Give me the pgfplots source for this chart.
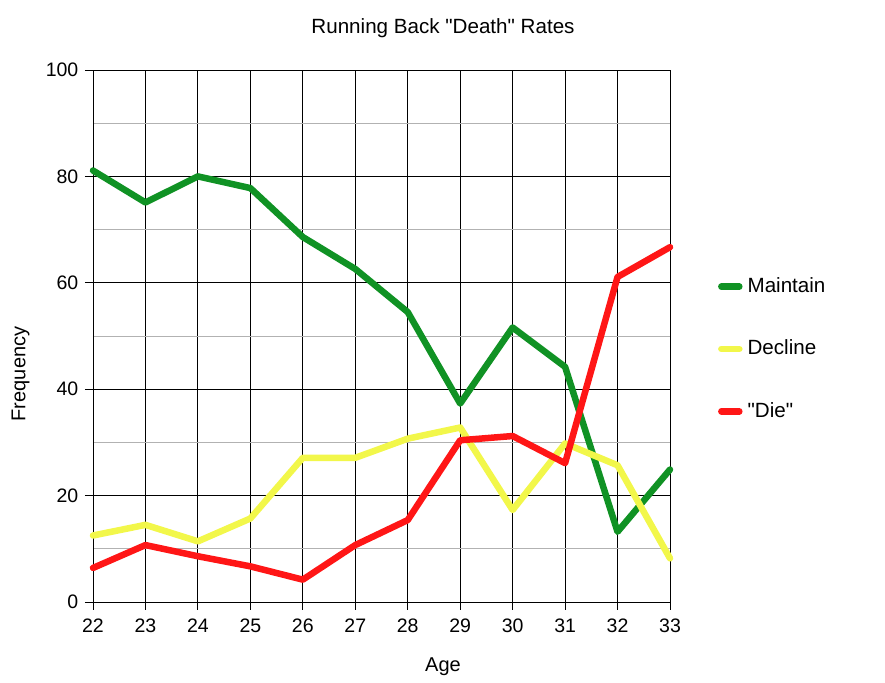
\documentclass[border=0pt]{standalone}
\usepackage{fontspec}
\setmainfont{Liberation Sans}
\usepackage{pgfplots}
\pgfplotsset{compat=1.18}
\definecolor{cgreen}{RGB}{16,146,36}
\definecolor{cyellow}{RGB}{242,247,74}
\definecolor{cred}{RGB}{255,22,22}
\begin{document}
\fontsize{19.5bp}{23bp}\selectfont
\begin{tikzpicture}
\begin{axis}[
  at={(0,0)}, anchor=south west,
  scale only axis, width=577bp, height=532bp,
  xmin=22, xmax=33, ymin=0, ymax=100,
  xtick={22,...,33}, ytick={0,20,...,100},
  minor ytick={10,30,...,90},
  xtick pos=bottom, ytick pos=left,
  grid=both,
  major grid style={black, line width=0.9bp},
  minor grid style={gray!60, line width=0.9bp},
  axis line style={black, line width=0.9bp},
  tick style={black, line width=0.9bp},
  tick align=outside,
  major tick length=8bp, minor tick length=0pt,
  /pgf/number format/assume math mode=true,
  tick label style={font=\fontsize{19.5bp}{23bp}\selectfont},
  xticklabel style={yshift=-2bp},
  title={Running Back \textquotedbl Death\textquotedbl\ Rates},
  title style={at={(0.6066,1)}, anchor=center, yshift=36bp, font=\fontsize{20.6bp}{23bp}\selectfont},
  xlabel={Age}, ylabel={Frequency},
  label style={font=\fontsize{20bp}{23bp}\selectfont},
  xlabel style={at={(axis description cs:0.6066,0)}, anchor=center, yshift=-65bp},
  ylabel style={at={(axis description cs:0,0.4286)}, anchor=center, yshift=72.5bp},
  legend style={draw=none, fill=none, at={(1.083,0.4756)}, anchor=west,
    font=\fontsize{20.6bp}{23bp}\selectfont, row sep=40.5bp,
    inner sep=0pt, nodes={inner sep=2bp}},
  legend cell align=left,
  legend image code/.code={\draw[#1, line width=6.5bp, line cap=round] (3bp,0bp) -- (21bp,0bp);},
  every axis plot/.append style={line width=6.5bp, line join=round, line cap=round},
  clip=false,
]
\addplot[cgreen] coordinates {(22,81.1) (23,75.1) (24,80.0) (25,77.8) (26,68.6) (27,62.6) (28,54.5) (29,37.3) (30,51.6) (31,44.2) (32,13.2) (33,24.9)};
\addlegendentry{\hspace{3bp}Maintain}
\addplot[cyellow] coordinates {(22,12.5) (23,14.5) (24,11.4) (25,15.7) (26,27.1) (27,27.1) (28,30.7) (29,32.8) (30,17.3) (31,29.8) (32,25.7) (33,8.2)};
\addlegendentry{\hspace{3bp}Decline}
\addplot[cred] coordinates {(22,6.4) (23,10.7) (24,8.6) (25,6.7) (26,4.2) (27,10.7) (28,15.4) (29,30.4) (30,31.2) (31,26.1) (32,61.1) (33,66.7)};
\addlegendentry{\hspace{3bp}\textquotedbl Die\textquotedbl}
\end{axis}
\path (-93bp,-81bp) rectangle (792bp,602bp);
\end{tikzpicture}
\end{document}
